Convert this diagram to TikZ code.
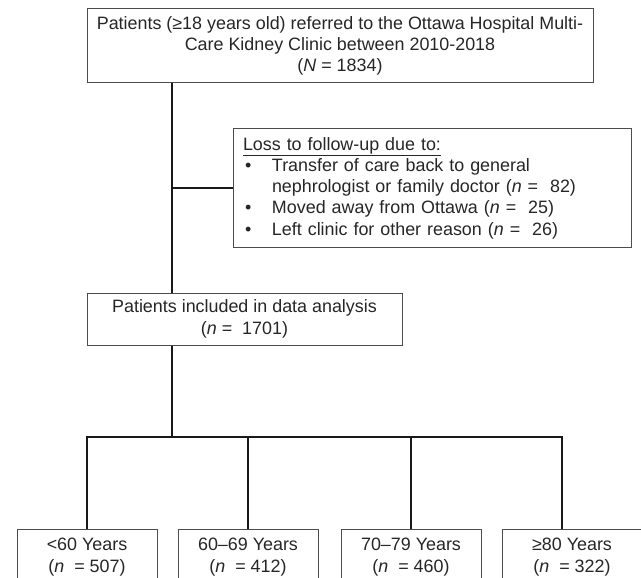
\documentclass[tikz,border=0pt]{standalone}
\usepackage{fontspec}
\setmainfont{Liberation Sans}
\usetikzlibrary{positioning}

\begin{document}
\begin{tikzpicture}[
  x=1pt,y=-1pt,
  every node/.style={font=\fontsize{17.9}{21.3}\selectfont,text=black!85},
  flowbox/.style={draw=black!70,line width=1pt,align=center,inner sep=0pt},
  agebox/.style={flowbox,minimum width=140pt,minimum height=56pt},
  conn/.style={line width=2.4pt,black!90},
]
  \useasboundingbox (0,0) rectangle (641,578);

  % Cohort boxes
  \node[flowbox,minimum width=506pt,minimum height=74pt] (ref) at (340,46)
    {Patients (≥18 years old) referred to the Ottawa Hospital Multi-\\
     Care Kidney Clinic between 2010-2018\\(\textit{N} = 1834)};
  \node[flowbox,align=left,text width=378pt,inner xsep=10pt,minimum height=118pt] (loss) at (432,188)
    {\underline{Loss to follow-up due to:}\\
     \makebox[29pt][l]{\hspace{2pt}•}Transfer of care back to general\\
     \hspace*{29pt}nephrologist or family doctor (\textit{n} = \ 82)\\
     \makebox[29pt][l]{\hspace{2pt}•}Moved away from Ottawa (\textit{n} = \ 25)\\
     \makebox[29pt][l]{\hspace{2pt}•}Left clinic for other reason (\textit{n} = \ 26)};
  \node[flowbox,minimum width=315pt,minimum height=52pt] (incl) at (244.5,319)
    {Patients included in data analysis\\(\textit{n} = \ 1701)};

  % Age groups
  \node[agebox] (age1) at (87,557)  {<60 Years\\(\textit{n} \ = 507)};
  \node[agebox] (age2) at (248,557) {60–69 Years\\(\textit{n} \ = 412)};
  \node[agebox] (age3) at (411,557) {70–79 Years\\(\textit{n} \ = 460)};
  \node[agebox] (age4) at (572,557) {≥80 Years\\(\textit{n} \ = 322)};

  % Connectors
  \coordinate (spine) at (172,0);
  \coordinate (split) at (172,437);
  \coordinate (drop4) at ([xshift=-10pt]age4.north);
  \draw[conn] (ref.south -| spine) -- (incl.north -| spine);
  \draw[conn] (loss.west) -- (loss.west -| spine);
  \draw[conn] (incl.south -| split) -- (split);
  \draw[conn] (age1.north) |- (drop4 |- split) -- (drop4);
  \foreach \g in {age2,age3}
    \draw[conn] (\g.north) -- (\g.north |- split);
\end{tikzpicture}
\end{document}
